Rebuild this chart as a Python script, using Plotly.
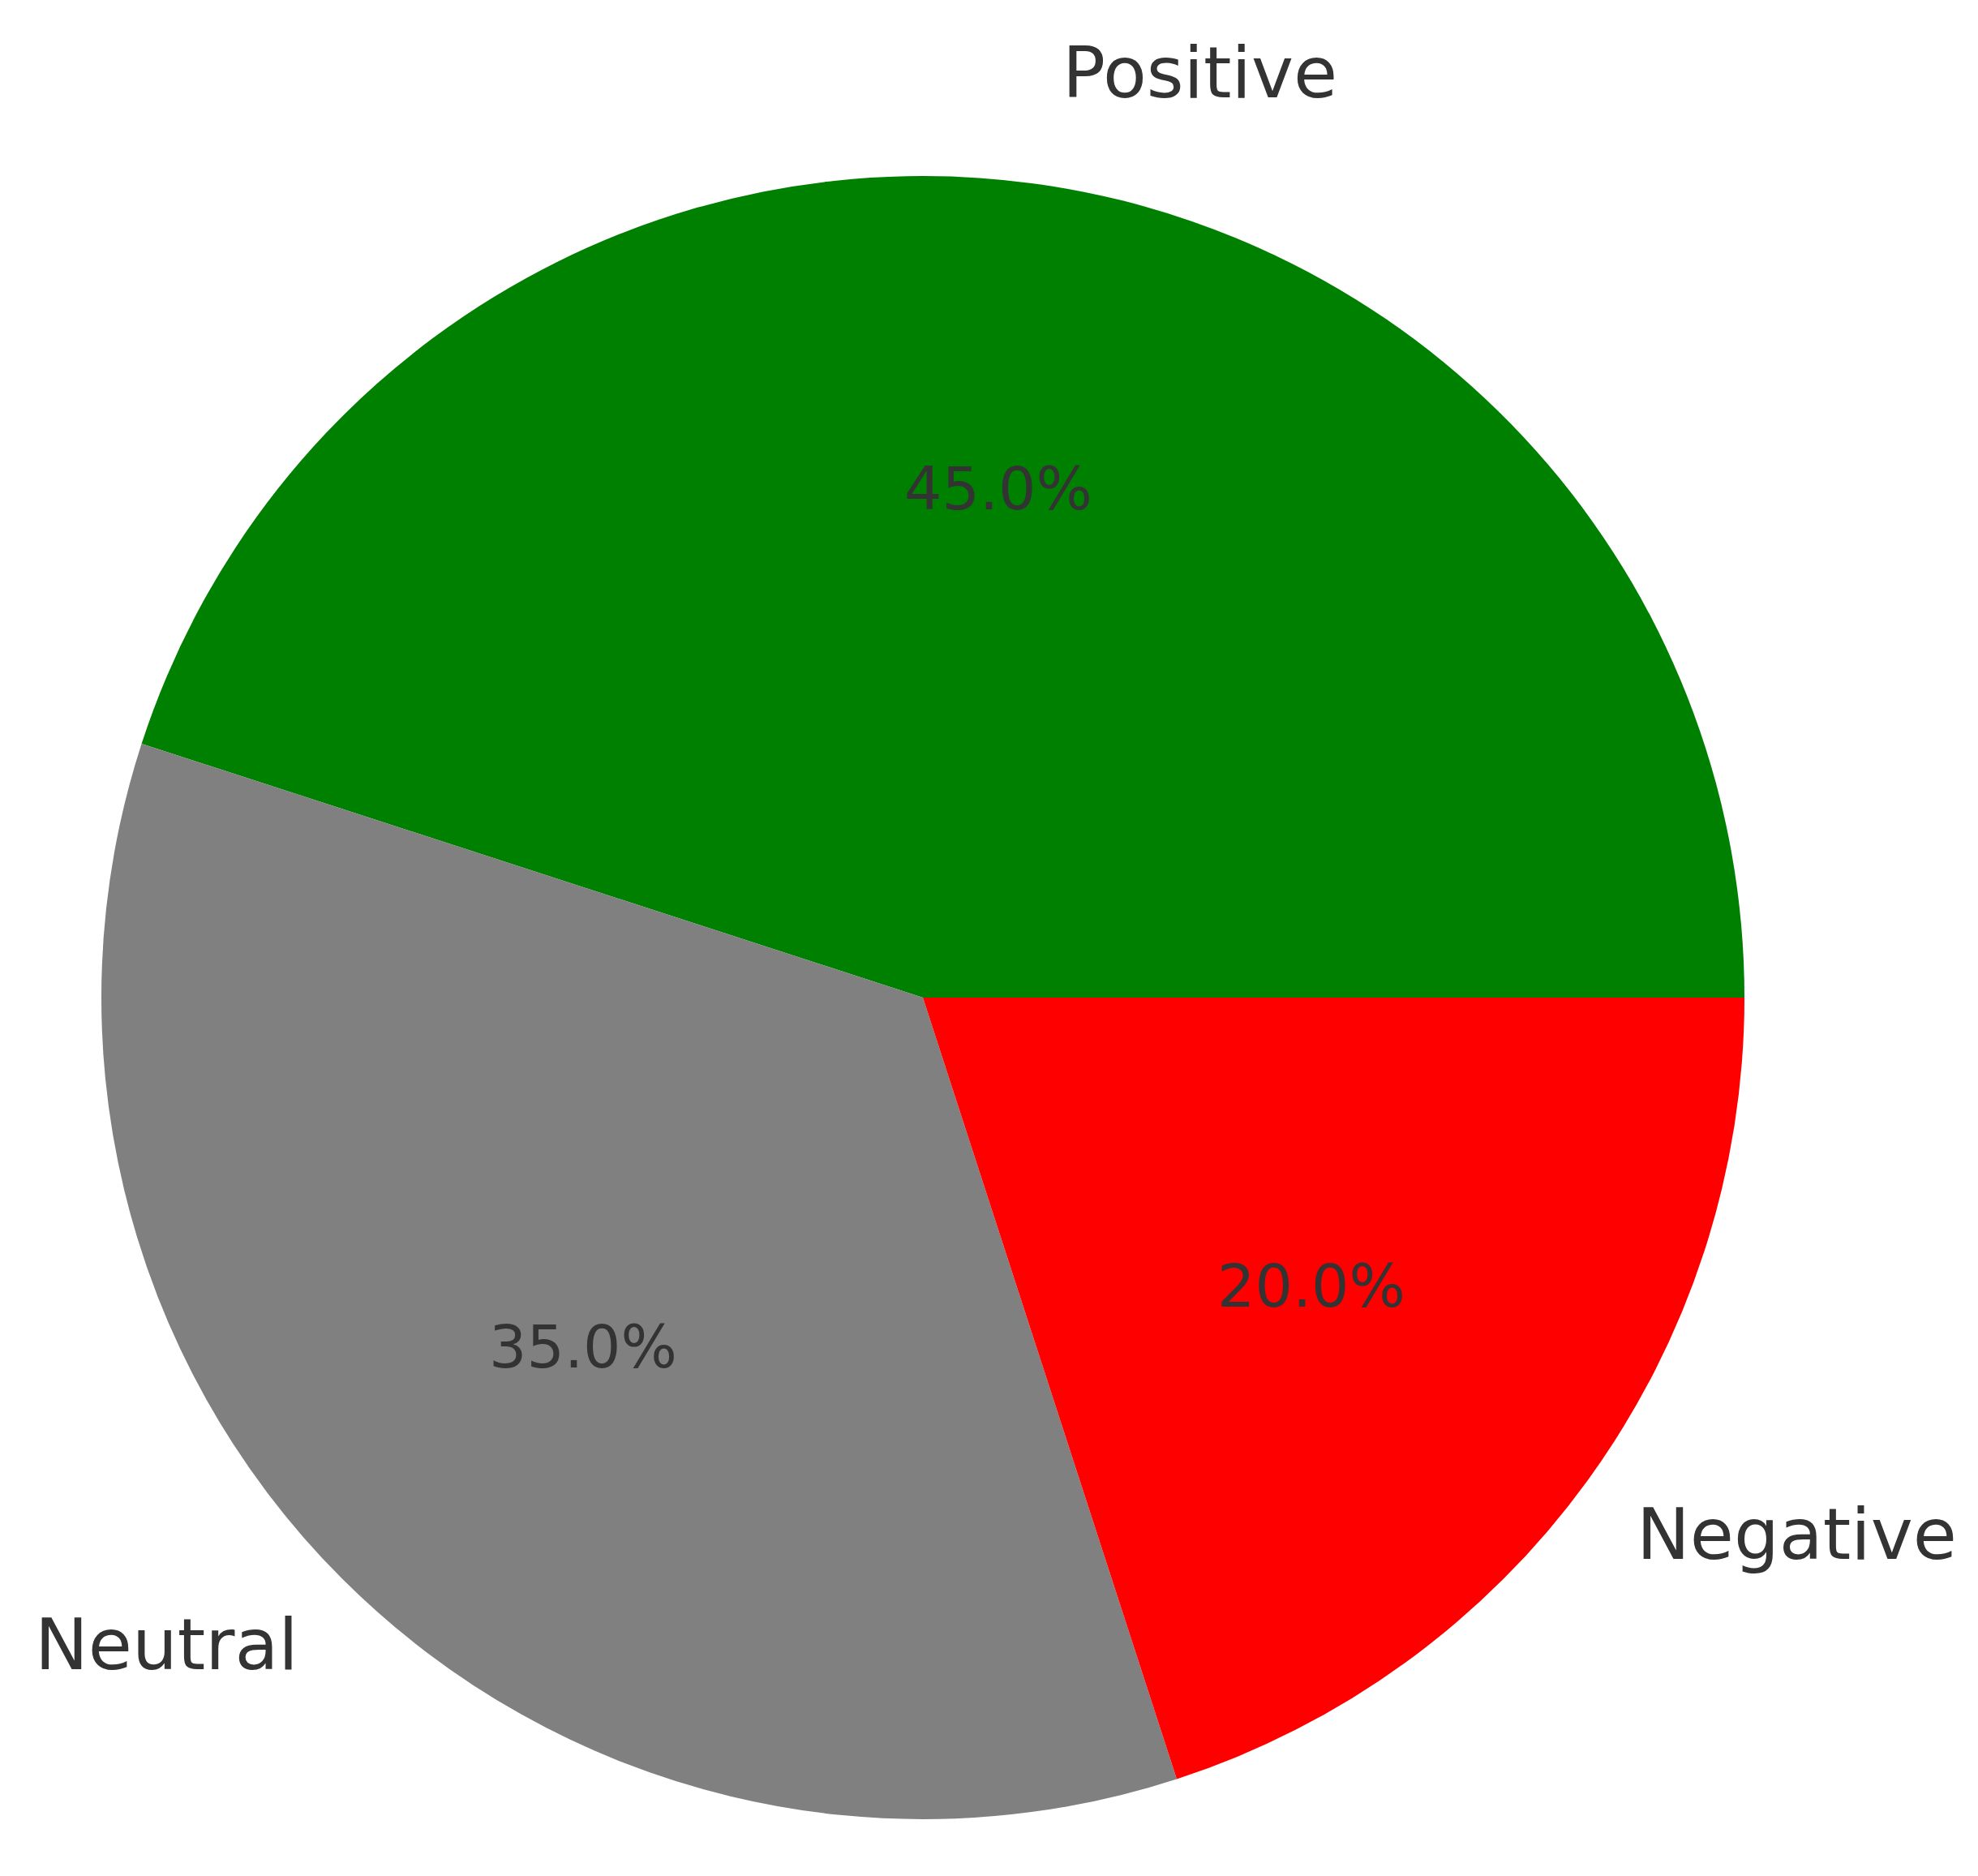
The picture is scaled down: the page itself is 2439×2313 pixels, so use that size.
import math
import plotly.graph_objects as go

# Data
labels = ["Positive", "Neutral", "Negative"]
values = [45, 35, 20]
colors = ["#008000", "#808080", "#ff0000"]

W, H = 2439, 2313
# pie geometry (pixels)
cx, cy = 1130, 1222
r = 1013
rx, ry = 987, 1040  # label placement radii matching reference aspect

total = sum(values)
# plotly (counterclockwise) places the first slice ending at `rotation`;
# make the first slice start at 3 o'clock and run counterclockwise.
rot = 90 - 360 * values[0] / total

fig = go.Figure()
fig.add_trace(go.Pie(
    labels=labels, values=values, sort=False,
    direction="counterclockwise", rotation=rot,
    marker=dict(colors=colors, line=dict(width=0)),
    textinfo="none", showlegend=False, hole=0,
    domain=dict(x=[(cx - r) / W, (cx + r) / W],
                y=[(H - cy - r) / H, (H - cy + r) / H]),
))

start = 0.0
annotations = []
font_lbl = dict(family="DejaVu Sans", size=88, color="#333333")
font_pct = dict(family="DejaVu Sans", size=73, color="#333333")
for lab, v in zip(labels, values):
    frac = v / total
    mid = math.radians((start + frac / 2) * 360)
    start += frac
    c, s = math.cos(mid), math.sin(mid)
    lx = cx + 1.1 * rx * c
    ly = cy - 1.1 * ry * s
    annotations.append(dict(
        x=lx / W, y=1 - ly / H, xref="paper", yref="paper",
        text=lab, showarrow=False, font=font_lbl, yshift=11,
        xanchor="left" if c > 0 else "right", yanchor="middle"))
    px = cx + 0.6 * rx * c
    py = cy - 0.6 * ry * s
    annotations.append(dict(
        x=px / W, y=1 - py / H, xref="paper", yref="paper",
        text=f"{frac * 100:.1f}%", showarrow=False, font=font_pct, yshift=11,
        xanchor="center", yanchor="middle"))

fig.update_layout(
    width=W, height=H,
    margin=dict(l=0, r=0, t=0, b=0),
    paper_bgcolor="white", plot_bgcolor="white",
    annotations=annotations,
)
fig.write_html("out.html")
